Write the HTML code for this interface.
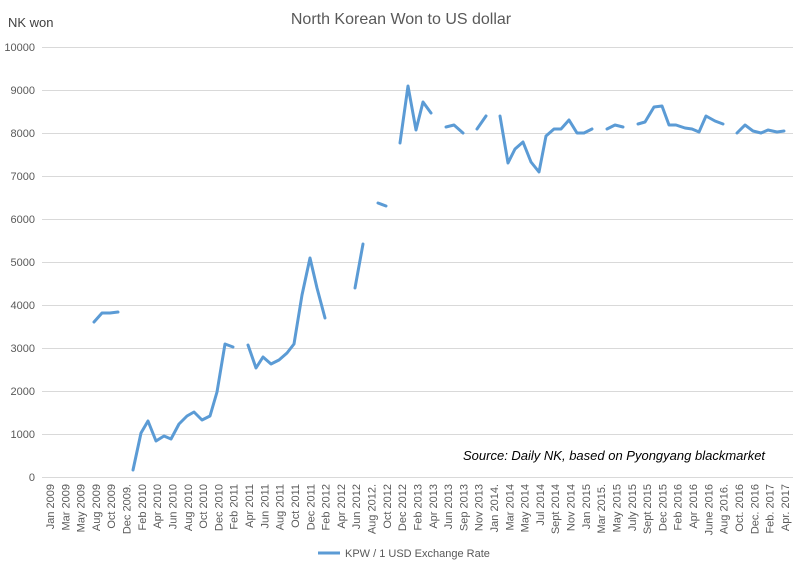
<!DOCTYPE html>
<html><head><meta charset="utf-8"><style>
body{margin:0;background:#fff}
svg{font-family:"Liberation Sans",Arial,sans-serif}
</style></head><body>
<svg width="802" height="573" viewBox="0 0 802 573" xmlns="http://www.w3.org/2000/svg">
<rect width="802" height="573" fill="#fff"/>
<text x="401" y="24" text-anchor="middle" font-size="16" fill="#595959">North Korean Won to US dollar</text>
<text x="8" y="27" font-size="13" fill="#404040">NK won</text>
<g stroke="#d9d9d9" stroke-width="1">
<line x1="42" x2="793" y1="47.5" y2="47.5"/><line x1="42" x2="793" y1="90.5" y2="90.5"/>
<line x1="42" x2="793" y1="133.5" y2="133.5"/><line x1="42" x2="793" y1="176.5" y2="176.5"/>
<line x1="42" x2="793" y1="219.5" y2="219.5"/><line x1="42" x2="793" y1="262.5" y2="262.5"/>
<line x1="42" x2="793" y1="305.5" y2="305.5"/><line x1="42" x2="793" y1="348.5" y2="348.5"/>
<line x1="42" x2="793" y1="391.5" y2="391.5"/><line x1="42" x2="793" y1="434.5" y2="434.5"/>
<line x1="42" x2="793" y1="477.5" y2="477.5"/>
</g>
<g font-size="11" fill="#595959" text-anchor="end">
<text x="35" y="51">10000</text><text x="35" y="94">9000</text><text x="35" y="137">8000</text>
<text x="35" y="180">7000</text><text x="35" y="223">6000</text><text x="35" y="266">5000</text>
<text x="35" y="309">4000</text><text x="35" y="352">3000</text><text x="35" y="395">2000</text>
<text x="35" y="438">1000</text><text x="35" y="481">0</text>
</g>
<g fill="none" stroke="#5b9bd5" stroke-width="3" stroke-linejoin="round" stroke-linecap="round">
<polyline points="94,322 102,313 110,313 118,312"/>
<polyline points="133,470 141,433 148,421 156,441 164,436 171,439 179,424 187,416 194,412 202,420 210,416 217,392 225,344 233,347"/>
<polyline points="248,345 256,368 263,357 271,364 279,360 287,353 294,344 302,295 310,258 317,288 325,318"/>
<polyline points="355,288 363,244"/>
<polyline points="378,203 386,206"/>
<polyline points="400,143 408,86 416,130 423,102 431,113"/>
<polyline points="446,127 454,125 463,133"/>
<polyline points="477,129 486,116"/>
<polyline points="500,116 508,163 515,149 523,142 531,162 539,172 546,136 554,129 561,129 569,120 577,133 584,133 592,129"/>
<polyline points="607,129 615,125 623,127"/>
<polyline points="638,124 645,122 654,107 662,106 669,125 676,125 685,128 692,129 699,132 706,116 715,121 723,124"/>
<polyline points="737,133 745,125 753,131 761,133 768,130 777,132 784,131"/>
</g>
<text x="463" y="460" font-size="13" font-style="italic" fill="#000">Source: Daily NK, based on Pyongyang blackmarket</text>
<g font-size="11" fill="#595959" text-anchor="end">
<text transform="translate(54.0,484) rotate(-90)">Jan 2009</text>
<text transform="translate(69.3,484) rotate(-90)">Mar 2009</text>
<text transform="translate(84.6,484) rotate(-90)">May 2009</text>
<text transform="translate(99.9,484) rotate(-90)">Aug 2009</text>
<text transform="translate(115.2,484) rotate(-90)">Oct 2009</text>
<text transform="translate(130.6,484) rotate(-90)">Dec 2009.</text>
<text transform="translate(145.9,484) rotate(-90)">Feb 2010</text>
<text transform="translate(161.2,484) rotate(-90)">Apr 2010</text>
<text transform="translate(176.5,484) rotate(-90)">Jun 2010</text>
<text transform="translate(191.8,484) rotate(-90)">Aug 2010</text>
<text transform="translate(207.1,484) rotate(-90)">Oct 2010</text>
<text transform="translate(222.4,484) rotate(-90)">Dec 2010</text>
<text transform="translate(237.7,484) rotate(-90)">Feb 2011</text>
<text transform="translate(253.0,484) rotate(-90)">Apr 2011</text>
<text transform="translate(268.3,484) rotate(-90)">Jun 2011</text>
<text transform="translate(283.7,484) rotate(-90)">Aug 2011</text>
<text transform="translate(299.0,484) rotate(-90)">Oct 2011</text>
<text transform="translate(314.3,484) rotate(-90)">Dec 2011</text>
<text transform="translate(329.6,484) rotate(-90)">Feb 2012</text>
<text transform="translate(344.9,484) rotate(-90)">Apr 2012</text>
<text transform="translate(360.2,484) rotate(-90)">Jun 2012</text>
<text transform="translate(375.5,484) rotate(-90)">Aug 2012.</text>
<text transform="translate(390.8,484) rotate(-90)">Oct 2012</text>
<text transform="translate(406.1,484) rotate(-90)">Dec 2012</text>
<text transform="translate(421.4,484) rotate(-90)">Feb 2013</text>
<text transform="translate(436.8,484) rotate(-90)">Apr 2013</text>
<text transform="translate(452.1,484) rotate(-90)">Jun 2013</text>
<text transform="translate(467.4,484) rotate(-90)">Sep 2013</text>
<text transform="translate(482.7,484) rotate(-90)">Nov 2013</text>
<text transform="translate(498.0,484) rotate(-90)">Jan 2014.</text>
<text transform="translate(513.3,484) rotate(-90)">Mar 2014</text>
<text transform="translate(528.6,484) rotate(-90)">May 2014</text>
<text transform="translate(543.9,484) rotate(-90)">Jul 2014</text>
<text transform="translate(559.2,484) rotate(-90)">Sept 2014</text>
<text transform="translate(574.5,484) rotate(-90)">Nov 2014</text>
<text transform="translate(589.9,484) rotate(-90)">Jan 2015</text>
<text transform="translate(605.2,484) rotate(-90)">Mar 2015.</text>
<text transform="translate(620.5,484) rotate(-90)">May 2015</text>
<text transform="translate(635.8,484) rotate(-90)">July 2015</text>
<text transform="translate(651.1,484) rotate(-90)">Sept 2015</text>
<text transform="translate(666.4,484) rotate(-90)">Dec 2015</text>
<text transform="translate(681.7,484) rotate(-90)">Feb 2016</text>
<text transform="translate(697.0,484) rotate(-90)">Apr 2016</text>
<text transform="translate(712.3,484) rotate(-90)">June 2016</text>
<text transform="translate(727.6,484) rotate(-90)">Aug 2016.</text>
<text transform="translate(743.0,484) rotate(-90)">Oct. 2016</text>
<text transform="translate(758.3,484) rotate(-90)">Dec. 2016</text>
<text transform="translate(773.6,484) rotate(-90)">Feb. 2017</text>
<text transform="translate(788.9,484) rotate(-90)">Apr. 2017</text>
</g>
<line x1="318" x2="340" y1="553" y2="553" stroke="#5b9bd5" stroke-width="3"/>
<text x="345" y="557" font-size="11" fill="#595959">KPW / 1 USD Exchange Rate</text>
</svg>
</body></html>
